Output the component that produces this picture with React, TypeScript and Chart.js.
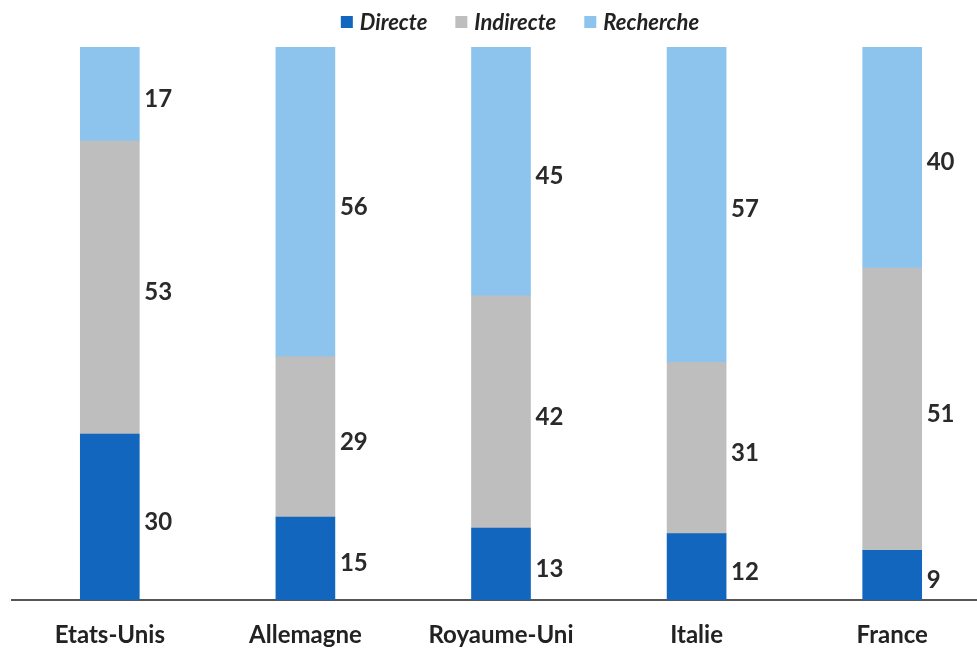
import React, { useEffect, useRef } from "react";
import { Chart, registerables } from "chart.js";

Chart.register(...registerables);

const categories = ["Etats-Unis", "Allemagne", "Royaume-Uni", "Italie", "France"];
const directe = [30, 15, 13, 12, 9];
const indirecte = [53, 29, 42, 31, 51];
const recherche = [17, 56, 45, 57, 40];

const seriesNames = ["Directe", "Indirecte", "Recherche"];
const seriesColors = ["#1266BE", "#BEBEBE", "#8CC4EE"];

const FONT = "Lato, 'Open Sans', sans-serif";

// Writes each segment's value just to the right of its bar, at the segment's middle.
const valueLabels = {
  id: "valueLabels",
  afterDatasetsDraw(chart: any) {
    const ctx = chart.ctx;
    ctx.save();
    ctx.font = `bold 24px ${FONT}`;
    ctx.fillStyle = "#2a2a2a";
    ctx.textAlign = "left";
    ctx.textBaseline = "middle";
    chart.data.datasets.forEach((ds: any, di: number) => {
      const meta = chart.getDatasetMeta(di);
      meta.data.forEach((bar: any, i: number) => {
        const p = bar.getProps(["x", "y", "base", "width"], true);
        const cy = (p.y + p.base) / 2 + 5;
        ctx.fillText(String(ds.data[i]), p.x + p.width / 2 + 5, cy);
      });
    });
    ctx.restore();
  },
};

// Category names under the axis, centred on each bar.
const categoryLabels = {
  id: "categoryLabels",
  afterDraw(chart: any) {
    const ctx = chart.ctx;
    const xs = chart.scales.x;
    ctx.save();
    ctx.font = `bold 24px ${FONT}`;
    ctx.fillStyle = "#222";
    ctx.textAlign = "center";
    ctx.textBaseline = "alphabetic";
    chart.data.labels.forEach((lab: string, i: number) => {
      ctx.fillText(lab, xs.getPixelForTick(i), chart.chartArea.bottom + 43);
    });
    ctx.restore();
  },
};

// Legend row above the plot: square swatch + italic series name.
const topLegend = {
  id: "topLegend",
  afterDraw(chart: any) {
    const ctx = chart.ctx;
    ctx.save();
    ctx.font = `italic bold 22px ${FONT}`;
    ctx.textBaseline = "middle";
    ctx.textAlign = "left";
    const box = 12;
    const gapText = 7;
    const gapItem = 28;
    const items = chart.data.datasets.map((ds: any) => ({
      text: ds.label,
      color: ds.backgroundColor,
      w: ctx.measureText(ds.label).width,
    }));
    const total =
      items.reduce((s: number, it: any) => s + box + gapText + it.w, 0) +
      gapItem * (items.length - 1);
    let x = 520 - total / 2;
    const cy = 22;
    items.forEach((it: any) => {
      ctx.fillStyle = it.color;
      ctx.fillRect(x, cy - box / 2, box, box);
      x += box + gapText;
      ctx.fillStyle = "#222";
      ctx.fillText(it.text, x, cy + 1);
      x += it.w + gapItem;
    });
    ctx.restore();
  },
};

export default function App() {
  const ref = useRef<HTMLCanvasElement>(null);

  useEffect(() => {
    const canvas = ref.current!;
    const chart = new Chart(canvas, {
      type: "bar",
      data: {
        labels: categories,
        datasets: [directe, indirecte, recherche].map((d, k) => ({
          label: seriesNames[k],
          data: d,
          backgroundColor: seriesColors[k],
          borderWidth: 0,
          barThickness: 59,
        })),
      },
      options: {
        responsive: false,
        animation: false,
        devicePixelRatio: 1,
        layout: { padding: { left: 12, right: 10, top: 47, bottom: 49 } },
        plugins: {
          legend: { display: false },
          tooltip: { enabled: false },
        },
        scales: {
          x: {
            stacked: true,
            grid: { display: false, drawTicks: false },
            border: { display: true, color: "#555", width: 2 },
            ticks: { display: false },
          },
          y: {
            stacked: true,
            display: false,
            min: 0,
            max: 100,
          },
        },
      },
      plugins: [valueLabels, categoryLabels, topLegend],
    });
    return () => chart.destroy();
  }, []);

  return (
    <div
      style={{
        position: "fixed",
        top: 0,
        left: 0,
        width: 977,
        height: 649,
        overflow: "hidden",
        background: "#fff",
      }}
    >
      <canvas ref={ref} width={1000} height={649} style={{ display: "block" }} />
    </div>
  );
}
